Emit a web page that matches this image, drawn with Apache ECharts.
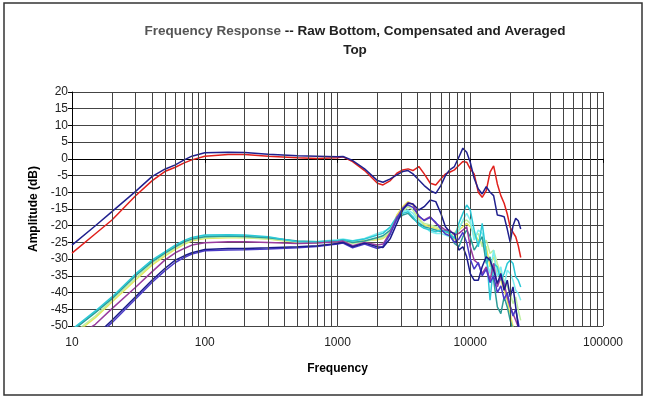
<!DOCTYPE html>
<html>
<head>
<meta charset="utf-8">
<script src="https://cdn.jsdelivr.net/npm/echarts@6/dist/echarts.min.js"></script>
<style>
  html, body { margin: 0; padding: 0; background: #fff; }
  #chart { width: 647px; height: 399px; }
</style>
</head>
<body>
<div id="chart"></div>
<script>
  // frequency points (Hz) shared by every curve
  var freqs = [10, 15, 20, 30, 40, 50, 60, 70, 80, 100, 150, 200, 300, 500, 700, 1000, 1100, 1300, 1600, 2000,
    2200, 2500, 2800, 3100, 3400, 3700, 4100, 4500, 5000, 5500, 6000, 6500, 7000, 7600, 8200, 8800, 9400, 10000,
    10700, 11500, 12300, 13200, 14100, 15000, 16000, 17000, 18000, 19000, 20000, 21000, 22000, 23000, 24000]

  // vertical minor grid lines
  var minorFreqs = [20, 30, 40, 50, 60, 70, 80, 90, 200, 300, 400, 500, 600, 700, 800, 900,
    2000, 3000, 4000, 5000, 6000, 7000, 8000, 9000, 20000, 30000, 40000, 50000, 60000, 70000, 80000, 90000]

  var yTicks = { min: -50, max: 20, step: 5 }

  // compensated & averaged (top)
  var topBlue = [-25.8, -20.0, -15.8, -9.8, -5.3, -3.1, -1.8, -0.3, 0.8, 1.8, 2.0, 1.9, 1.4, 0.9, 0.8, 0.6, 0.7, -0.5, -3.0, -6.5,
    -7.0, -6.0, -4.8, -3.8, -3.5, -4.5, -6.3, -8.0, -9.5, -10.3, -8.0, -5.0, -3.3, -2.3, 0.5, 3.2, 2.0, -1.0,
    -5.8, -9.0, -10.5, -8.3, -10.0, -11.0, -16.8, -17.0, -17.3, -21.0, -25.0, -20.0, -17.8, -18.5, -21.0]
  var topRed = [-28.2, -22.4, -18.3, -11.1, -6.6, -3.8, -2.5, -1.2, -0.3, 0.8, 1.3, 1.3, 0.8, 0.3, 0.1, 0.3, 0.6, -0.8, -3.5, -7.3,
    -7.8, -6.5, -4.3, -3.3, -3.0, -3.5, -2.3, -4.5, -7.3, -7.8, -6.0, -4.5, -4.0, -3.3, -2.0, -0.8, -1.0, -3.0,
    -4.5, -10.0, -11.5, -9.5, -4.0, -2.1, -7.5, -11.0, -13.3, -16.5, -20.5, -22.0, -23.3, -26.0, -29.5]

  // raw (bottom)
  var rawNavy = [-58, -53, -48.3, -41.3, -36.3, -32.8, -30.3, -29, -28.1, -27.1, -26.8, -26.8, -26.6, -26.3, -26, -25.3, -25, -26.3, -25.2, -26.3,
    -26.5, -23.8, -19.3, -15.3, -13.3, -13.5, -15.3, -14.3, -12.3, -12.8, -16.3, -20.3, -21.8, -22.3, -27.3, -26.3, -29.3, -34.3,
    -36.3, -36.3, -32.3, -29.3, -30.3, -33.3, -37.3, -34.3, -39.3, -36.3, -41.3, -38.3, -44.3, -50.3, -52.3]
  var rawViolet = [-58, -53.5, -49, -42, -37, -33.5, -31, -29.5, -28.5, -27.5, -27.3, -27.2, -27, -26.6, -26.2, -25.5, -25.2, -26.6, -25.5, -26.8,
    -26.2, -22.5, -18, -14.8, -13.8, -14.5, -17, -18.5, -17.5, -19, -21, -22.5, -23, -25, -24, -22, -25, -30,
    -33, -31, -35, -33, -37, -35, -40, -38, -42, -40, -44, -47, -45, -49, -53]
  var rawPurple = [-54, -49.5, -44.8, -38.5, -33.8, -30.3, -28.1, -26.8, -25.8, -25.1, -24.8, -24.8, -25, -25.3, -25.2, -24.8, -24.6, -26, -25, -25.8,
    -25.5, -22, -17.5, -14.8, -13.1, -13.5, -17.3, -18.3, -17.3, -19.3, -20.3, -21.3, -21.3, -22.8, -22.3, -21.3, -20.3, -26.3,
    -30.3, -31.3, -34.3, -32.3, -36.3, -31.3, -38.3, -35.3, -37.3, -41.3, -44.3, -46.3, -48.3, -50.3, -52.3]
  var rawTeal = [-51.5, -46, -41.8, -35, -30.8, -28.2, -26.3, -24.8, -24, -23.3, -23.1, -23.2, -23.6, -24.6, -24.8, -24.6, -24.3, -25, -24.6, -23.5,
    -23, -21.3, -18, -16.8, -16.3, -17.8, -19.3, -20.3, -20.8, -21.3, -21.8, -21.3, -22.3, -25.3, -26.3, -23.3, -21.3, -23.3,
    -27.3, -25.3, -23.3, -31.3, -29.3, -36.3, -44.3, -46.3, -41.3, -44.3, -48.3, -51.3, -50.3, -52.3, -54.3]
  var rawCyan = [-51, -45.5, -41.3, -34.5, -30.3, -27.8, -25.8, -24.4, -23.5, -22.8, -22.7, -22.8, -23.3, -24.8, -24.9, -24.4, -24.2, -24.6, -24, -22.8,
    -22.3, -20.3, -17.3, -16.3, -15.8, -17.3, -19.8, -20.8, -21.3, -21.8, -21.3, -21.8, -22.3, -23.8, -19.3, -16.3, -13.8, -15.3,
    -21.3, -26.3, -19.3, -28.3, -42.3, -31.3, -32.3, -36.3, -34.3, -31.3, -30.3, -31.3, -35.3, -36.3, -38.3]
  var rawYellow = [-53, -47.5, -42.8, -36.3, -31.8, -29.1, -27.1, -25.6, -24.5, -23.8, -23.6, -23.6, -24, -25, -25, -24.5, -24.2, -25, -24.5, -24.2,
    -23.8, -22.3, -16.8, -14.3, -12.8, -13.8, -17.8, -19.8, -20.3, -20.8, -21.3, -21.8, -22.3, -24.3, -21.3, -20.3, -19.3, -20.3,
    -22.3, -24.3, -25.3, -26.3, -32.3, -29.3, -33.3, -36.3, -39.3, -42.3, -46.3, -50.3, -52.3, -53.3, -54.3]
  var rawGreen = [-52.5, -47, -42.3, -35.8, -31.3, -28.6, -26.7, -25.3, -24.3, -23.6, -23.4, -23.5, -23.9, -24.9, -25.1, -24.7, -24.5, -25.3, -24.8, -23.8,
    -23.5, -21.8, -17.8, -15.8, -14.3, -15.3, -18.3, -19.3, -19.8, -20.3, -20.8, -22.3, -23.3, -22.3, -20.3, -18.8, -18.3, -19.3,
    -23.3, -22.3, -26.3, -24.3, -28.3, -27.3, -31.3, -34.3, -36.3, -38.3, -40.3, -43.3, -41.3, -45.3, -48.3]
  var rawAqua = [-51.2, -45.8, -41.6, -34.8, -30.6, -28, -26, -24.6, -23.7, -23, -22.9, -23, -23.5, -24.7, -24.7, -24.2, -24, -24.5, -23.8, -22.3,
    -21.8, -20.8, -17.8, -15.8, -15.3, -16.3, -18.8, -20.3, -21.8, -22.3, -22.3, -22.8, -23.3, -23.3, -21.3, -18.3, -16.3, -18.3,
    -24.3, -21.3, -22.3, -30.3, -34.3, -27.3, -35.3, -32.3, -38.3, -33.3, -34.3, -36.3, -39.3, -40.3, -42.3]

  var curves = [
    { name: 'raw 1', values: rawYellow, color: '#e6e65c' },
    { name: 'raw 2', values: rawGreen, color: '#bdeea0' },
    { name: 'raw 3', values: rawAqua, color: '#7deef0' },
    { name: 'raw 4', values: rawTeal, color: '#2e9c98' },
    { name: 'raw 5', values: rawCyan, color: '#2cc8d6' },
    { name: 'raw 6', values: rawPurple, color: '#9a3c9e' },
    { name: 'raw 7', values: rawViolet, color: '#4a3ac8' },
    { name: 'raw 8', values: rawNavy, color: '#1c1c8c' },
    { name: 'averaged red', values: topRed, color: '#e0201c' },
    { name: 'averaged blue', values: topBlue, color: '#20208e' }
  ]

  function pairs(values) {
    return freqs.map(function(f, i) {
      return [f, values[i]]
    })
  }

  var font = 'Liberation Sans, Arial, sans-serif'
  var chart = echarts.init(document.getElementById('chart'))

  var series = [{
    name: 'minor grid',
    type: 'line',
    data: [],
    silent: true,
    z: 1,
    markLine: {
      silent: true,
      symbol: ['none', 'none'],
      label: { show: false },
      animation: false,
      lineStyle: { color: '#444', width: 1, type: 'solid' },
      emphasis: { disabled: true },
      data: minorFreqs.map(function(f) { return { xAxis: f } })
    }
  }]
  curves.forEach(function(c) {
    series.push({
      name: c.name,
      type: 'line',
      data: pairs(c.values),
      showSymbol: false,
      symbol: 'none',
      z: 3,
      lineStyle: { color: c.color, width: 1.5 },
      itemStyle: { color: c.color }
    })
  })

  chart.setOption({
    animation: false,
    backgroundColor: '#fff',
    title: {
      text: '{a|Frequency Response} -- Raw Bottom, Compensated and Averaged\nTop',
      left: 350,
      textAlign: 'center',
      top: 17,
      textStyle: {
        fontFamily: font,
        fontSize: 13.5,
        fontWeight: 'bold',
        color: '#222',
        lineHeight: 19,
        rich: {
          a: { fontFamily: font, fontSize: 13.5, fontWeight: 'bold', color: '#555', lineHeight: 19 }
        }
      }
    },
    graphic: [{
      type: 'rect',
      shape: { x: 4, y: 3, width: 638, height: 392 },
      style: { fill: 'none', stroke: '#333', lineWidth: 1.5 },
      silent: true
    }],
    grid: { left: 72, right: 44, top: 92, bottom: 73, show: false },
    xAxis: {
      type: 'log',
      logBase: 10,
      min: 10,
      max: 100000,
      name: 'Frequency',
      nameLocation: 'middle',
      nameGap: 37,
      nameTextStyle: { fontFamily: font, fontSize: 12, fontWeight: 'bold', color: '#000' },
      axisLine: { show: true, lineStyle: { color: '#000', width: 1 } },
      axisTick: { show: true, length: 4, lineStyle: { color: '#000' } },
      axisLabel: {
        fontFamily: font, fontSize: 12, color: '#222', margin: 11,
        formatter: function(v) { return String(Math.round(v)) }
      },
      splitLine: { show: true, lineStyle: { color: '#444', width: 1 } }
    },
    yAxis: {
      type: 'value',
      min: yTicks.min,
      max: yTicks.max,
      interval: yTicks.step,
      name: 'Amplitude (dB)',
      nameLocation: 'middle',
      nameGap: 32,
      nameTextStyle: { fontFamily: font, fontSize: 12, fontWeight: 'bold', color: '#000' },
      axisLine: { show: true, lineStyle: { color: '#000', width: 1 } },
      axisTick: { show: true, length: 4, lineStyle: { color: '#000' } },
      axisLabel: { fontFamily: font, fontSize: 12, color: '#222', margin: 4 },
      splitLine: { show: true, lineStyle: { color: '#444', width: 1 } }
    },
    series: series
  })
</script>
</body>
</html>
